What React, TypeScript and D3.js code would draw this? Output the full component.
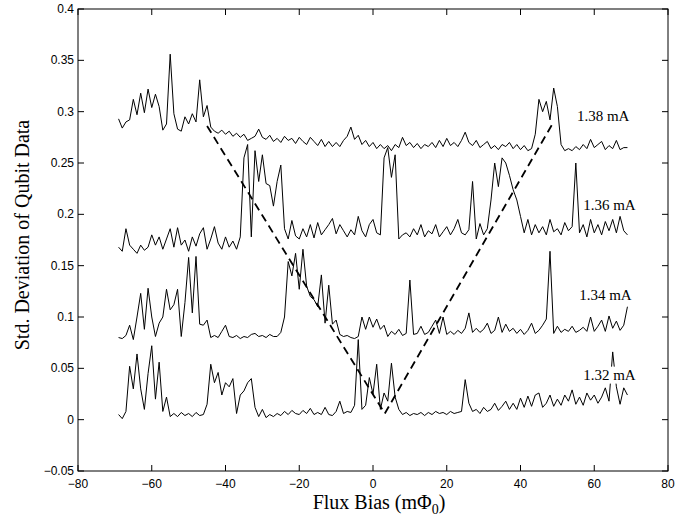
import React from 'react';
import * as d3 from 'd3';

// Flux bias sample grid (mΦ0)
const fluxBias: number[] = d3.range(-69, 70);

const std138 = [
  0.293, 0.284, 0.290, 0.292, 0.312, 0.297, 0.318, 0.299, 0.322, 0.304,
  0.317, 0.305, 0.282, 0.288, 0.356, 0.298, 0.283, 0.281, 0.295, 0.288,
  0.298, 0.290, 0.331, 0.295, 0.306, 0.285, 0.281, 0.279, 0.282, 0.278,
  0.281, 0.276, 0.279, 0.275, 0.278, 0.272, 0.274, 0.276, 0.283, 0.275,
  0.273, 0.277, 0.271, 0.274, 0.270, 0.276, 0.272, 0.274, 0.269, 0.275,
  0.271, 0.268, 0.275, 0.271, 0.267, 0.273, 0.266, 0.271, 0.266, 0.270,
  0.266, 0.272, 0.276, 0.285, 0.273, 0.277, 0.268, 0.272, 0.266, 0.270,
  0.264, 0.268, 0.264, 0.267, 0.262, 0.268, 0.265, 0.275, 0.267, 0.270,
  0.265, 0.269, 0.264, 0.268, 0.266, 0.270, 0.265, 0.272, 0.266, 0.274,
  0.267, 0.270, 0.266, 0.272, 0.280, 0.270, 0.267, 0.272, 0.265, 0.268,
  0.271, 0.264, 0.267, 0.263, 0.268, 0.266, 0.270, 0.264, 0.268, 0.263,
  0.267, 0.262, 0.264, 0.278, 0.312, 0.300, 0.310, 0.292, 0.323, 0.305,
  0.268, 0.262, 0.264, 0.262, 0.266, 0.263, 0.268, 0.264, 0.273, 0.265,
  0.268, 0.271, 0.263, 0.267, 0.264, 0.272, 0.263, 0.265, 0.265,
];

const std136 = [
  0.168, 0.164, 0.186, 0.170, 0.166, 0.162, 0.170, 0.165, 0.168, 0.180,
  0.170, 0.178, 0.166, 0.176, 0.186, 0.168, 0.187, 0.170, 0.175, 0.164,
  0.178, 0.169, 0.181, 0.187, 0.166, 0.176, 0.188, 0.172, 0.166, 0.178,
  0.168, 0.174, 0.166, 0.178, 0.255, 0.268, 0.178, 0.262, 0.232, 0.258,
  0.230, 0.228, 0.208, 0.232, 0.248, 0.186, 0.176, 0.194, 0.179, 0.176,
  0.186, 0.178, 0.190, 0.177, 0.192, 0.180, 0.185, 0.190, 0.196, 0.181,
  0.190, 0.184, 0.178, 0.185, 0.180, 0.198, 0.184, 0.178, 0.190, 0.195,
  0.182, 0.180, 0.255, 0.265, 0.236, 0.258, 0.176, 0.180, 0.182, 0.178,
  0.186, 0.180, 0.190, 0.178, 0.184, 0.181, 0.190, 0.178, 0.183, 0.188,
  0.180, 0.186, 0.195, 0.182, 0.180, 0.185, 0.232, 0.176, 0.191, 0.180,
  0.186, 0.214, 0.250, 0.227, 0.255, 0.250, 0.238, 0.224, 0.214, 0.198,
  0.182, 0.195, 0.180, 0.190, 0.182, 0.188, 0.180, 0.195, 0.183, 0.186,
  0.180, 0.192, 0.184, 0.188, 0.250, 0.182, 0.190, 0.178, 0.195, 0.182,
  0.190, 0.180, 0.193, 0.184, 0.195, 0.182, 0.198, 0.184, 0.180,
];

const std134 = [
  0.080, 0.079, 0.082, 0.092, 0.078, 0.100, 0.123, 0.088, 0.128, 0.100,
  0.081, 0.094, 0.100, 0.127, 0.107, 0.112, 0.127, 0.081, 0.114, 0.158,
  0.104, 0.159, 0.093, 0.092, 0.097, 0.080, 0.082, 0.080, 0.086, 0.092,
  0.081, 0.080, 0.082, 0.079, 0.081, 0.080, 0.083, 0.084, 0.081, 0.082,
  0.080, 0.083, 0.081, 0.081, 0.085, 0.100, 0.154, 0.140, 0.162, 0.127,
  0.166, 0.130, 0.120, 0.117, 0.110, 0.141, 0.094, 0.131, 0.093, 0.097,
  0.083, 0.081, 0.082, 0.080, 0.079, 0.081, 0.100, 0.088, 0.100, 0.090,
  0.098, 0.088, 0.092, 0.081, 0.086, 0.083, 0.088, 0.082, 0.084, 0.136,
  0.083, 0.084, 0.091, 0.083, 0.085, 0.091, 0.097, 0.084, 0.100, 0.083,
  0.086, 0.083, 0.087, 0.084, 0.089, 0.104, 0.085, 0.089, 0.085, 0.088,
  0.094, 0.084, 0.087, 0.100, 0.085, 0.093, 0.086, 0.089, 0.084, 0.088,
  0.083, 0.087, 0.094, 0.084, 0.087, 0.092, 0.098, 0.164, 0.084, 0.091,
  0.085, 0.088, 0.086, 0.091, 0.085, 0.087, 0.090, 0.086, 0.100, 0.086,
  0.091, 0.097, 0.086, 0.101, 0.089, 0.096, 0.087, 0.092, 0.110,
];

const std132 = [
  0.005, 0.001, 0.008, 0.052, 0.030, 0.064, 0.030, 0.010, 0.045, 0.072,
  0.020, 0.056, 0.008, 0.022, 0.003, 0.006, 0.003, 0.007, 0.004, 0.006,
  0.003, 0.007, 0.004, 0.005, 0.015, 0.054, 0.036, 0.046, 0.024, 0.036,
  0.032, 0.040, 0.006, 0.024, 0.028, 0.036, 0.040, 0.012, 0.003, 0.010,
  0.002, 0.005, 0.003, 0.006, 0.004, 0.008, 0.005, 0.009, 0.006, 0.005,
  0.009, 0.006, 0.011, 0.005, 0.007, 0.005, 0.012, 0.005, 0.004, 0.008,
  0.018, 0.006, 0.008, 0.007, 0.014, 0.078, 0.010, 0.014, 0.041, 0.025,
  0.054, 0.010, 0.026, 0.018, 0.055, 0.022, 0.010, 0.005, 0.007, 0.004,
  0.006, 0.005, 0.007, 0.004, 0.007, 0.005, 0.008, 0.006, 0.007, 0.005,
  0.008, 0.006, 0.007, 0.008, 0.039, 0.016, 0.008, 0.010, 0.006, 0.012,
  0.008, 0.010, 0.016, 0.009, 0.013, 0.018, 0.010, 0.016, 0.010, 0.021,
  0.012, 0.023, 0.013, 0.024, 0.026, 0.012, 0.016, 0.024, 0.013, 0.020,
  0.014, 0.024, 0.018, 0.029, 0.015, 0.022, 0.014, 0.026, 0.019, 0.024,
  0.016, 0.022, 0.031, 0.018, 0.066, 0.032, 0.015, 0.031, 0.024,
];

// dashed guide (V shape)
const guideX = [-45, 3.2, 48.5];
const guideY = [0.286, 0.006, 0.287];

const curveLabels = ['1.38 mA', '1.36 mA', '1.34 mA', '1.32 mA'];
const curveLabelX = [55.3, 57.0, 55.9, 57.0];
const curveLabelY = [0.291, 0.2045, 0.1169, 0.039];

const xTicks = [-80, -60, -40, -20, 0, 20, 40, 60, 80];
const xTickLabels = ['−80', '−60', '−40', '−20', '0', '20', '40', '60', '80'];
const yTicks = [-0.05, 0, 0.05, 0.1, 0.15, 0.2, 0.25, 0.3, 0.35, 0.4];
const yTickLabels = ['−0.05', '0', '0.05', '0.1', '0.15', '0.2', '0.25', '0.3', '0.35', '0.4'];

const W = 694;
const H = 518;
const L = 78, R = 668, T = 9, B = 471;

export default function App() {
  const x = d3.scaleLinear().domain([-80, 80]).range([L, R]);
  const y = d3.scaleLinear().domain([-0.05, 0.4]).range([B, T]);
  const line = d3.line<[number, number]>().x(d => x(d[0])).y(d => y(d[1]));
  const series = [std138, std136, std134, std132];
  const tick = 6;
  const sans = '"Liberation Sans", Arial, Helvetica, sans-serif';
  const serif = '"Liberation Serif", "Times New Roman", Times, serif';

  return (
    <svg width={W} height={H} style={{ position: 'absolute', left: 0, top: 0, background: '#fff' }}>
      <rect x={0} y={0} width={W} height={H} fill="#fff" />
      {series.map((s, i) => (
        <path key={i} d={line(fluxBias.map((f, j) => [f, s[j]] as [number, number])) || ''}
          fill="none" stroke="#000" strokeWidth={1} strokeLinejoin="round" />
      ))}
      <path d={line(guideX.map((g, j) => [g, guideY[j]] as [number, number])) || ''}
        fill="none" stroke="#000" strokeWidth={1.8} strokeDasharray="8,5" />
      {curveLabels.map((t, i) => (
        <g key={t}>
          <rect x={x(curveLabelX[i]) - 2} y={y(curveLabelY[i]) - 13} width={57} height={17} fill="#fff" />
          <text x={x(curveLabelX[i])} y={y(curveLabelY[i])} fontFamily={serif} fontSize={15} fill="#000">{t}</text>
        </g>
      ))}
      {/* axes box */}
      <rect x={L} y={T} width={R - L} height={B - T} fill="none" stroke="#000" strokeWidth={1} />
      {xTicks.map((v, i) => (
        <g key={'x' + v}>
          <line x1={x(v)} x2={x(v)} y1={B} y2={B - tick} stroke="#000" />
          <line x1={x(v)} x2={x(v)} y1={T} y2={T + tick} stroke="#000" />
          <text x={x(v)} y={B + 17} textAnchor="middle" fontFamily={sans} fontSize={12} fill="#000">{xTickLabels[i]}</text>
        </g>
      ))}
      {yTicks.map((v, i) => (
        <g key={'y' + v}>
          <line x1={L} x2={L + tick} y1={y(v)} y2={y(v)} stroke="#000" />
          <line x1={R} x2={R - tick} y1={y(v)} y2={y(v)} stroke="#000" />
          <text x={L - 4} y={y(v) + 4} textAnchor="end" fontFamily={sans} fontSize={12} fill="#000">{yTickLabels[i]}</text>
        </g>
      ))}
      <text x={379} y={509} textAnchor="middle" fontFamily={serif} fontSize={20} fill="#000">
        Flux Bias (mΦ<tspan dy={5} fontSize={14}>0</tspan><tspan dy={-5}>)</tspan>
      </text>
      <text transform={`translate(29,${(T + B) / 2 - 5}) rotate(-90)`} textAnchor="middle" fontFamily={serif} fontSize={20} fill="#000">
        Std. Deviation of Qubit Data
      </text>
    </svg>
  );
}
